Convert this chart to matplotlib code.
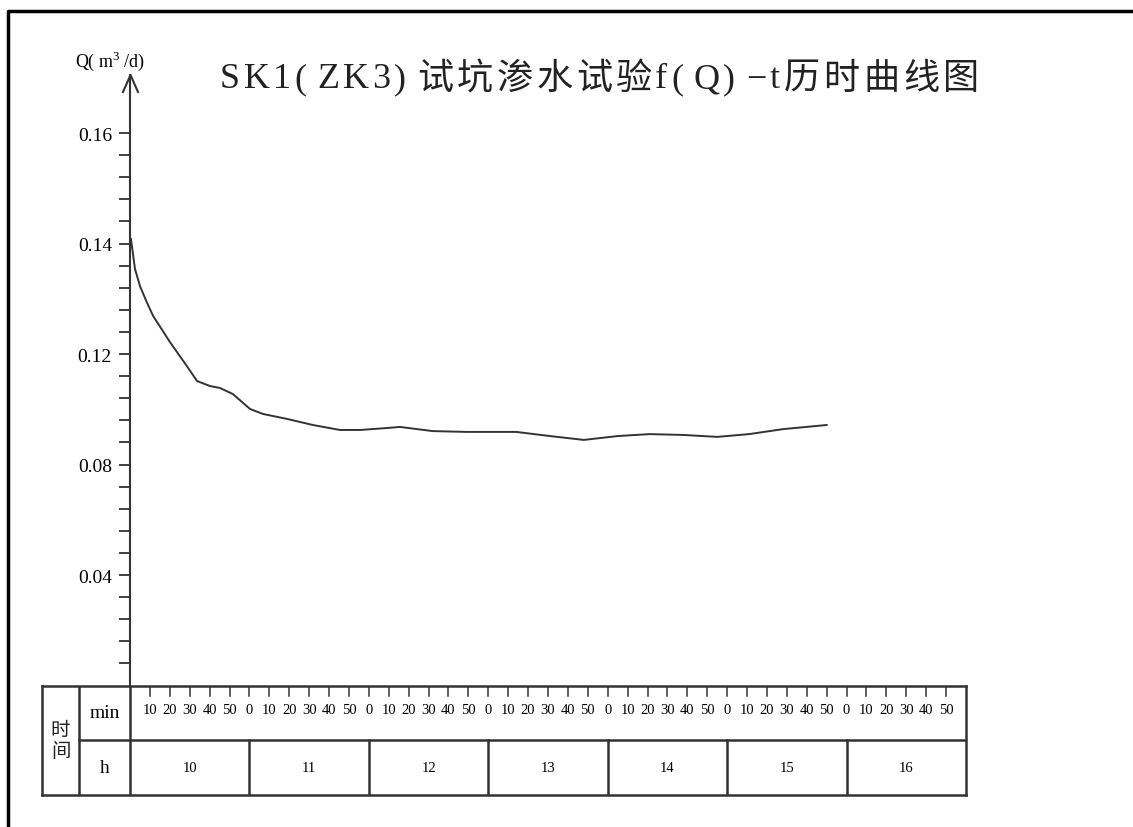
import numpy as np
import matplotlib
matplotlib.use("Agg")
import matplotlib.pyplot as plt
from matplotlib.lines import Line2D

# 数据: 自 10:00 起的分钟数 与 渗水量 Q (m3/d)
t_min = [0.5, 2.5, 5, 8.4, 11.6, 20, 28.6, 33.7, 40.2, 45.2, 51.7, 60.3, 66.8, 78.9,
         91.9, 105.5, 115.6, 129, 135.6, 152, 169, 194, 211, 228, 245, 261, 278,
         295, 311, 328, 350]
q_val = [0.1408, 0.1354, 0.1323, 0.1294, 0.1269, 0.1222, 0.1156, 0.1102, 0.1084,
         0.1077, 0.1055, 0.1001, 0.0983, 0.0965, 0.0943, 0.0925, 0.0925, 0.0932,
         0.0936, 0.0921, 0.0918, 0.0918, 0.0903, 0.0889, 0.0903, 0.0910, 0.0907,
         0.0900, 0.0910, 0.0928, 0.0943]

# 纵轴刻度 (原图刻度不等距)
y_ticks = [0.04, 0.08, 0.12, 0.14, 0.16]
y_tick_labels = ["0.04", "0.08", "0.12", "0.14", "0.16"]
q_anchor = [0.0, 0.04, 0.08, 0.12, 0.14, 0.16, 0.18]
hours = [10, 11, 12, 13, 14, 15, 16]
minute_marks = [0, 10, 20, 30, 40, 50]

title = "SK1( ZK3) 试坑渗水试验f( Q) −t历时曲线图"

W, H = 1133, 828
fig = plt.figure(figsize=(W / 100, H / 100), dpi=100)
serif = ["Liberation Serif", "Noto Sans CJK SC"]
ink = "#333333"

# 主图区
ax_left, ax_right = 130, 966
ax_top, ax_bottom = 76, 686.5
ax = fig.add_axes([ax_left / W, 1 - ax_bottom / H, (ax_right - ax_left) / W,
                   (ax_bottom - ax_top) / H])
pos_anchor = list(range(len(q_anchor)))
ax.set_yscale("function", functions=(lambda q: np.interp(q, q_anchor, pos_anchor),
                                     lambda p: np.interp(p, pos_anchor, q_anchor)))
ax.set_xlim(0, 60 * len(hours))
ax.set_ylim(0, 0.1705)
ax.plot(t_min, q_val, color=ink, lw=1.4, solid_joinstyle="round")

for s in ["top", "right", "bottom"]:
    ax.spines[s].set_visible(False)
ax.spines["left"].set_color(ink)
ax.spines["left"].set_linewidth(1.5)
ax.set_xticks([])
ax.set_yticks(y_ticks)
ax.set_yticklabels(y_tick_labels, family=serif, fontsize=14)
minor = []
for a, b in zip(q_anchor[:5], q_anchor[1:6]):
    minor += list(np.linspace(a, b, 6)[1:-1])
ax.set_yticks(minor, minor=True)
ax.tick_params(axis="y", which="both", direction="out", length=8, width=1.3,
               color=ink, pad=5)

# 箭头
fig.add_artist(Line2D([123 / W, 130.5 / W, 138 / W], [1 - 93 / H, 1 - 76 / H, 1 - 93 / H],
                      color=ink, lw=1.5))
fig.text(110 / W, 1 - 61 / H, r"Q( m$^{\mathregular{3}}$ /d)", family=serif, fontsize=13,
         ha="center", va="center")

# 标题 (逐字排布, 加字距)
fig.canvas.draw()
r = fig.canvas.get_renderer()
x = 220
for ch in title:
    if ch == " ":
        x += 7
        continue
    tt = fig.text(x / W, 1 - 80 / H, ch, family=serif, fontsize=26,
                  ha="left", va="center", color="#222222")
    x += tt.get_window_extent(r).width + 3.6

# 时间表格
tb_left, tb_top, tb_bottom = 42, 686.5, 796
px_per_min = (ax_right - ax_left) / (60 * len(hours))
xl = -(ax_left - tb_left) / px_per_min
col2 = -(ax_left - 79) / px_per_min
tb = fig.add_axes([tb_left / W, 1 - tb_bottom / H, (ax_right - tb_left) / W,
                   (tb_bottom - tb_top) / H])
tb.set_xlim(xl, 60 * len(hours))
tb.set_ylim(0, 2)
tb.set_xticks([])
tb.set_yticks([])
for s in tb.spines.values():
    s.set_color(ink)
    s.set_linewidth(1.8)
tb.plot([col2, 60 * len(hours)], [1, 1], color=ink, lw=1.8)
tb.plot([col2, col2], [0, 2], color=ink, lw=1.8)
tb.plot([0, 0], [0, 2], color=ink, lw=1.8)
for i in range(1, len(hours)):
    tb.plot([60 * i, 60 * i], [0, 1], color=ink, lw=1.8)

tick_len = 10 / ((tb_bottom - tb_top) / 2)
for i, h in enumerate(hours):
    tb.text(60 * i + 30, 0.5, str(h), family=serif, fontsize=10.5, ha="center",
            va="center")
    for m in minute_marks:
        tm = 60 * i + m
        if tm == 0:
            continue
        tb.plot([tm, tm], [2, 2 - tick_len], color=ink, lw=1.1)
        tb.text(tm, 1.56, str(m), family=serif, fontsize=10.5, ha="center", va="center")

tb.text((xl + col2) / 2, 1.0, "时\n间", family=["Noto Sans CJK SC"], fontsize=14,
        ha="center", va="center", linespacing=1.0, color="#222222")
tb.text(col2 / 2, 1.5, "min", family=serif, fontsize=14, ha="center", va="center")
tb.text(col2 / 2, 0.5, "h", family=serif, fontsize=14, ha="center", va="center")

# 外框
fig.add_artist(Line2D([8 / W, 8 / W, 1], [0, 1 - 12 / H, 1 - 12 / H], color="black", lw=2.5))

fig.savefig("out.png", dpi=100)
